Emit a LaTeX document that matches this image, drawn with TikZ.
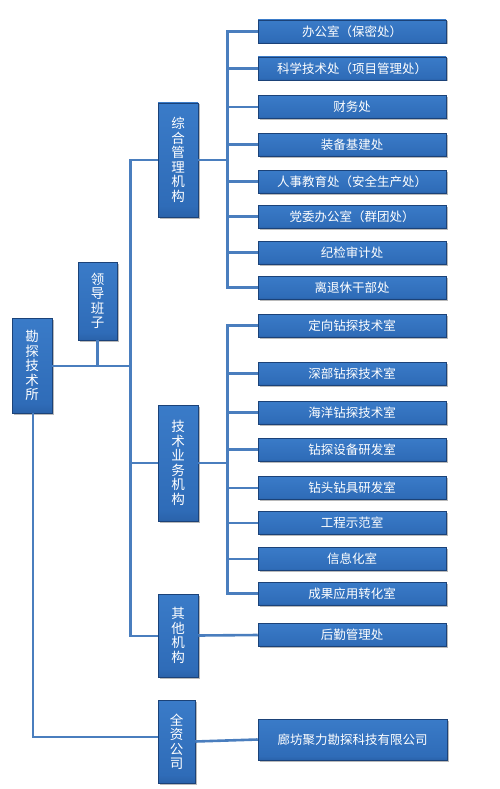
\documentclass[tikz,border=0pt]{standalone}
\usepackage{fontspec}
\newfontfamily\cjk{Noto Sans CJK SC}
\usetikzlibrary{shadows}
\definecolor{bxdark}{HTML}{1F4E8E}
\definecolor{bxmid}{HTML}{2F6CB8}
\definecolor{bxmid2}{HTML}{3A7BC8}
\definecolor{bxlight}{HTML}{6EA4E2}
\definecolor{bxedge}{HTML}{1B4278}
\definecolor{linkc}{HTML}{4A7EBE}
\pgfdeclareverticalshading{boxshade}{100bp}{color(0bp)=(bxdark); color(15bp)=(bxdark); color(30bp)=(bxmid); color(75bp)=(bxmid2); color(85bp)=(bxlight); color(100bp)=(bxlight)}
\tikzset{
  x=1pt, y=-1pt,
  orgbox/.style={draw=bxedge, line width=0.5pt, shading=boxshade, text=white, inner sep=0pt,
     drop shadow={shadow xshift=1.5pt, shadow yshift=-1.5pt, fill=black!45, opacity=0.6}},
  hbox/.style={orgbox, minimum width=188pt, minimum height=23pt, font=\cjk\fontsize{12.5}{14}\selectfont},
  vbox/.style={orgbox, align=center, font=\cjk\fontsize{13.5}{14.5}\selectfont},
  link/.style={draw=linkc, line width=2.6pt}
}
\begin{document}
\begin{tikzpicture}
\useasboundingbox (0,0) rectangle (500,789);
% coordinates
\coordinate (busR) at (227.5,0);
\coordinate (busM) at (130.5,0);
\coordinate (joinM) at (130.5,366);
\coordinate (corner) at (33,737);
\coordinate (qtj) at (130.5,636);
% right boxes
\node[hbox] (b1) at (352,31.5) {办公室（保密处）};
\node[hbox] (b2) at (352,68.5) {科学技术处（项目管理处）};
\node[hbox] (b3) at (352,107) {财务处};
\node[hbox] (b4) at (352,144.5) {装备基建处};
\node[hbox] (b5) at (352,181.5) {人事教育处（安全生产处）};
\node[hbox] (b6) at (352,216.5) {党委办公室（群团处）};
\node[hbox] (b7) at (352,252.5) {纪检审计处};
\node[hbox] (b8) at (352,287.5) {离退休干部处};
\node[hbox] (c1) at (352,325.5) {定向钻探技术室};
\node[hbox] (c2) at (352,373.5) {深部钻探技术室};
\node[hbox] (c3) at (352,412.5) {海洋钻探技术室};
\node[hbox] (c4) at (352,449.5) {钻探设备研发室};
\node[hbox] (c5) at (352,488) {钻头钻具研发室};
\node[hbox] (c6) at (352,523) {工程示范室};
\node[hbox] (c7) at (352,559) {信息化室};
\node[hbox] (c8) at (352,593.5) {成果应用转化室};
\node[hbox] (d1) at (352,635) {后勤管理处};
\node[hbox, minimum width=189pt, minimum height=41pt] (e1) at (352.5,739.5) {廊坊聚力勘探科技有限公司};
% middle boxes
\node[vbox, minimum width=40pt, minimum height=114pt] (zh) at (178,160) {综\\合\\管\\理\\机\\构};
\node[vbox, minimum width=40pt, minimum height=116pt] (js) at (178,463) {技\\术\\业\\务\\机\\构};
\node[vbox, minimum width=40pt, minimum height=83pt] (qt) at (178,635.5) {其\\他\\机\\构};
\node[vbox, minimum width=37pt, minimum height=83pt] (qz) at (176.5,741.5) {全\\资\\公\\司};
% left boxes
\node[vbox, minimum width=39pt, minimum height=78pt] (ld) at (97.5,301) {领\\导\\班\\子};
\node[vbox, minimum width=40pt, minimum height=95pt] (kt) at (32,365.5) {勘\\探\\技\\术\\所};
% top group connectors
\draw[link] (b1.west) -- (b1.west -| busR) -- (b8.west -| busR) -- (b8.west);
\foreach \n in {b2,b3,b4,b5,b6,b7} \draw[link] (\n.west) -- (\n.west -| busR);
\draw[link] (zh.east) -- (zh.east -| busR);
% tech group
\draw[link] (c1.west) -- (c1.west -| busR) -- (c8.west -| busR) -- (c8.west);
\foreach \n in {c2,c3,c4,c5,c6,c7} \draw[link] (\n.west) -- (\n.west -| busR);
\draw[link] (js.east) -- (js.east -| busR);
% others
\draw[link] (qt.east) -- (d1.west);
\draw[link] (qz.east) -- (e1.west);
% middle bus
\draw[link] (zh.west) -- (zh.west -| busM) -- (qtj) -- (qtj -| qt.west);
\draw[link] (js.west) -- (js.west -| busM);
\draw[link] (kt.east |- joinM) -- (joinM);
\draw[link] (ld.south) -- (ld.south |- joinM);
% left bus
\draw[link] (kt.south -| corner) -- (corner) -- (corner -| qz.west);
\end{tikzpicture}
\end{document}
